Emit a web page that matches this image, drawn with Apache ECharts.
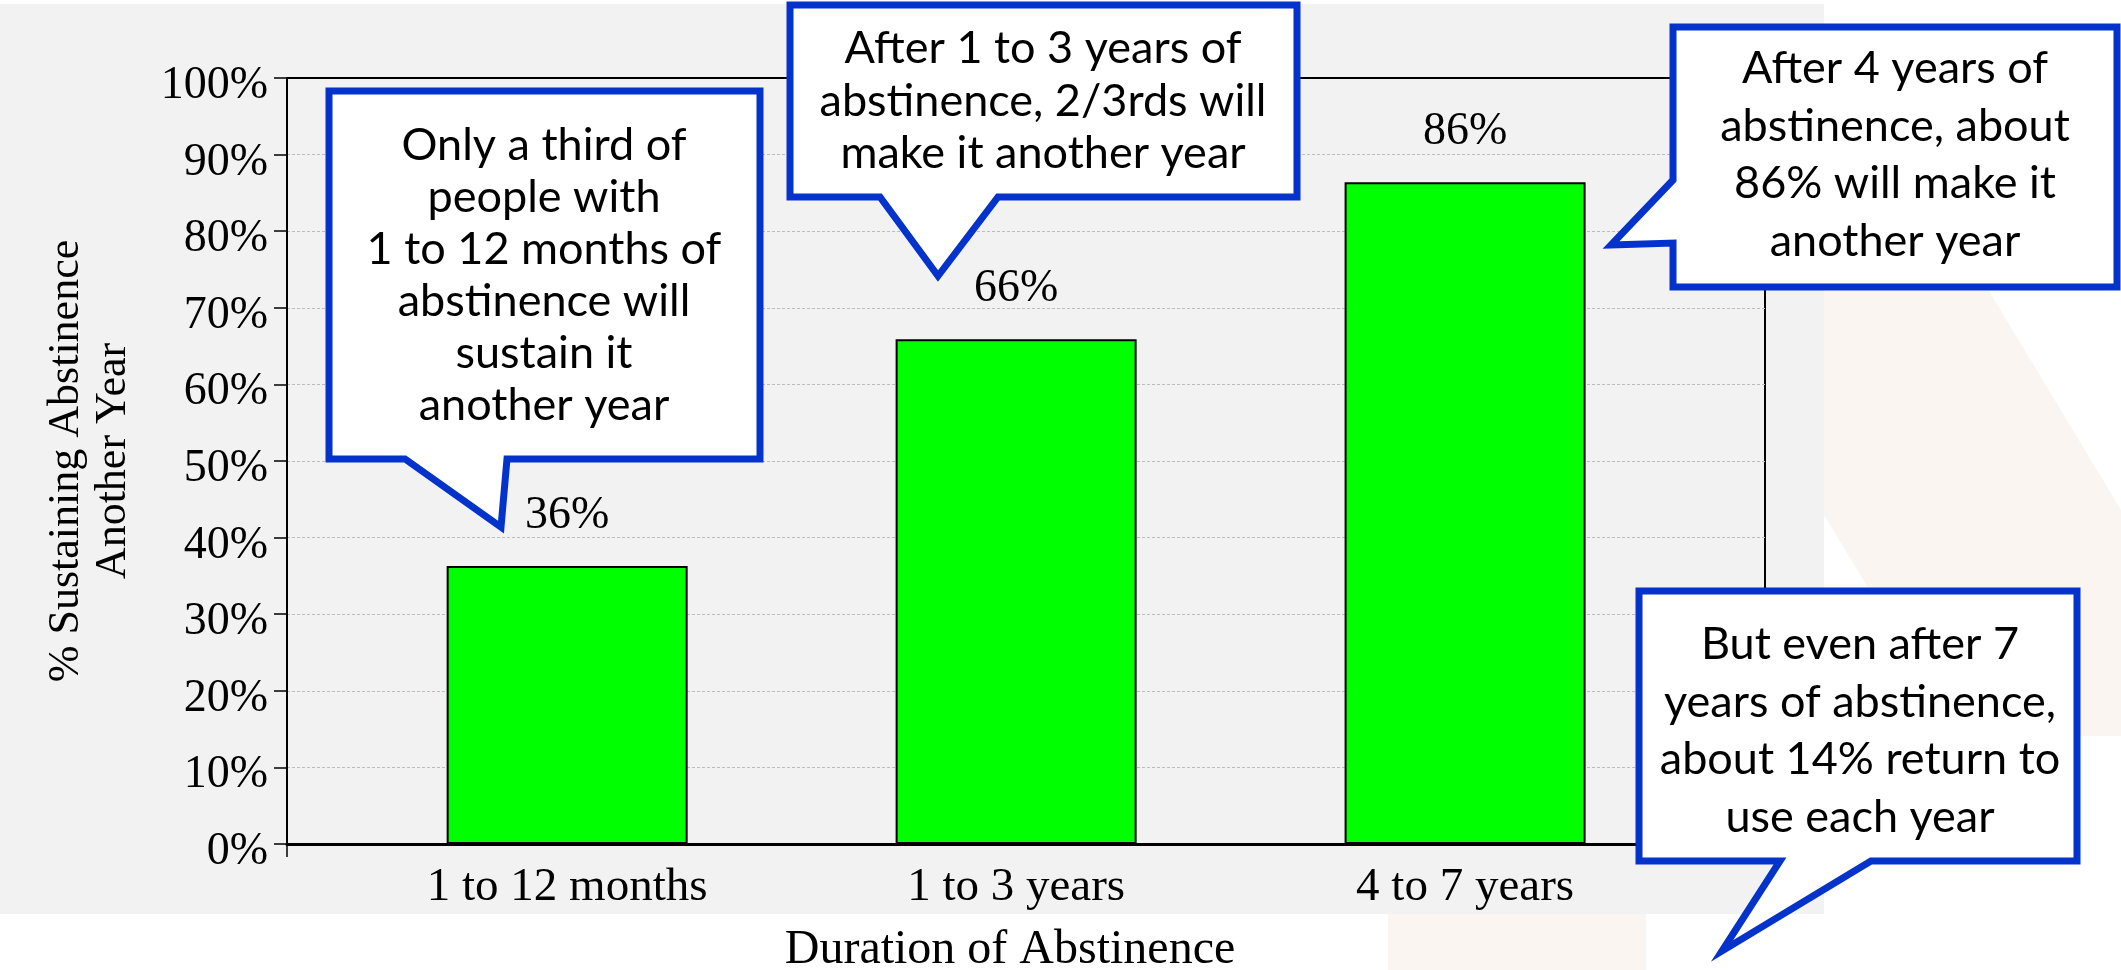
<!DOCTYPE html>
<html>
<head>
<meta charset="utf-8">
<script src="https://cdn.jsdelivr.net/npm/echarts@6/dist/echarts.min.js"></script>
<style>
  html, body { margin: 0; padding: 0; background: #ffffff; }
  #chart { width: 2121px; height: 970px; }
</style>
</head>
<body>
<div id="chart"></div>
<script>
// ---- data ----
const categories = ['1 to 12 months', '1 to 3 years', '4 to 7 years'];
const values = [36.3, 65.9, 86.4];
const yAxisTitle = '% Sustaining Abstinence\nAnother Year';
const xAxisTitle = 'Duration of Abstinence';
const callout1 = ['Only a third of', 'people with', '1 to 12 months of', 'abstinence will', 'sustain it', 'another year'];
const callout2 = ['After 1 to 3 years of', 'abstinence, 2/3rds will', 'make it another year'];
const callout3 = ['After 4 years of', 'abstinence, about', '86% will make it', 'another year'];
const callout4 = ['But even after 7', 'years of abstinence,', 'about 14% return to', 'use each year'];

const SERIF = "'Liberation Serif', 'Times New Roman', serif";
const SANS = "Lato, 'Open Sans', sans-serif";
const BLUE = '#0433cc';
const X_MIN = -0.624, X_MAX = 2.668;

function callout(points, lines, cx, cy, lh) {
  return [
    { type: 'polygon', z: 100, shape: { points: points },
      style: { fill: '#ffffff', stroke: BLUE, lineWidth: 7, lineJoin: 'miter' } },
    { type: 'text', z: 101, x: cx, y: cy,
      style: { text: lines.join('\n'), fill: '#000', fontSize: 45, fontFamily: SANS,
               textAlign: 'center', textVerticalAlign: 'middle', lineHeight: lh } }
  ];
}

const chart = echarts.init(document.getElementById('chart'), null, { renderer: 'canvas' });
chart.setOption({
  backgroundColor: '#ffffff',
  animation: false,
  grid: { left: 287, right: 356, top: 78, bottom: 126, outerBoundsMode: 'none',
          show: true, borderColor: '#000', borderWidth: 2, backgroundColor: 'transparent' },
  xAxis: {
    type: 'value', min: X_MIN, max: X_MAX,
    name: xAxisTitle, nameLocation: 'middle', nameGap: 82,
    nameTextStyle: { fontFamily: SERIF, fontSize: 48, color: '#000', padding: [0, 32, 0, 0] },
    axisLine: { show: true, onZero: false, lineStyle: { color: '#000', width: 3 } },
    axisTick: { show: true, customValues: [X_MIN], length: 13, lineStyle: { color: '#000', width: 1.5 } },
    axisLabel: { customValues: [0, 1, 2], formatter: v => categories[Math.round(v)] || '',
                 fontFamily: SERIF, fontSize: 47, color: '#000', margin: 20 },
    splitLine: { show: false }
  },
  yAxis: {
    type: 'value', min: 0, max: 100, interval: 10,
    name: yAxisTitle, nameLocation: 'middle', nameRotate: 90, nameGap: 150,
    nameTextStyle: { fontFamily: SERIF, fontSize: 44, color: '#000', lineHeight: 47 },
    axisLine: { show: true, onZero: false, lineStyle: { color: '#000', width: 2 } },
    axisTick: { show: true, length: 13, lineStyle: { color: '#000', width: 1.5 } },
    axisLabel: { formatter: '{value}%', fontFamily: SERIF, fontSize: 46, color: '#000',
                 margin: 19, verticalAlign: 'top', lineHeight: 16 },
    splitLine: { show: true, showMinLine: false, showMaxLine: false,
                 lineStyle: { color: '#bdbdbd', width: 1, type: [3, 2] } }
  },
  series: [{
    type: 'bar',
    data: values.map((v, i) => [i, v]),
    barWidth: 241,
    itemStyle: { color: '#00ff00', borderColor: '#000', borderWidth: 2 },
    label: { show: true, position: 'top', distance: 27,
             formatter: p => Math.round(p.value[1]) + '%',
             fontFamily: SERIF, fontSize: 46, color: '#000' },
    z: 5
  }],
  graphic: [
    // faint background artwork and panel
    { type: 'polygon', z: -100, silent: true,
      shape: { points: [[1824, 291], [1989, 291], [2121, 510], [2121, 736], [1958, 736], [1824, 515]] },
      style: { fill: '#faf5f1' } },
    { type: 'rect', z: -100, silent: true, shape: { x: 1388, y: 914, width: 258, height: 56 },
      style: { fill: '#faf5f1' } },
    { type: 'rect', z: -99, silent: true, shape: { x: 0, y: 4, width: 1824, height: 910 },
      style: { fill: '#f2f2f2' } },
    ...callout([[329, 91], [760, 91], [760, 459], [507, 459], [501, 527], [405, 459], [329, 459]],
               callout1, 544, 275, 52),
    ...callout([[790, 5], [1297, 5], [1297, 197], [998, 197], [938, 276], [880, 197], [790, 197]],
               callout2, 1043, 101, 52.5),
    ...callout([[1673, 27], [2117, 27], [2117, 287], [1673, 287], [1673, 243], [1611, 245], [1673, 180]],
               callout3, 1895, 155, 57.5),
    ...callout([[1639, 591], [2077, 591], [2077, 861], [1871, 861], [1722, 951], [1780, 861], [1639, 861]],
               callout4, 1860, 731, 57.5)
  ]
});
</script>
</body>
</html>
